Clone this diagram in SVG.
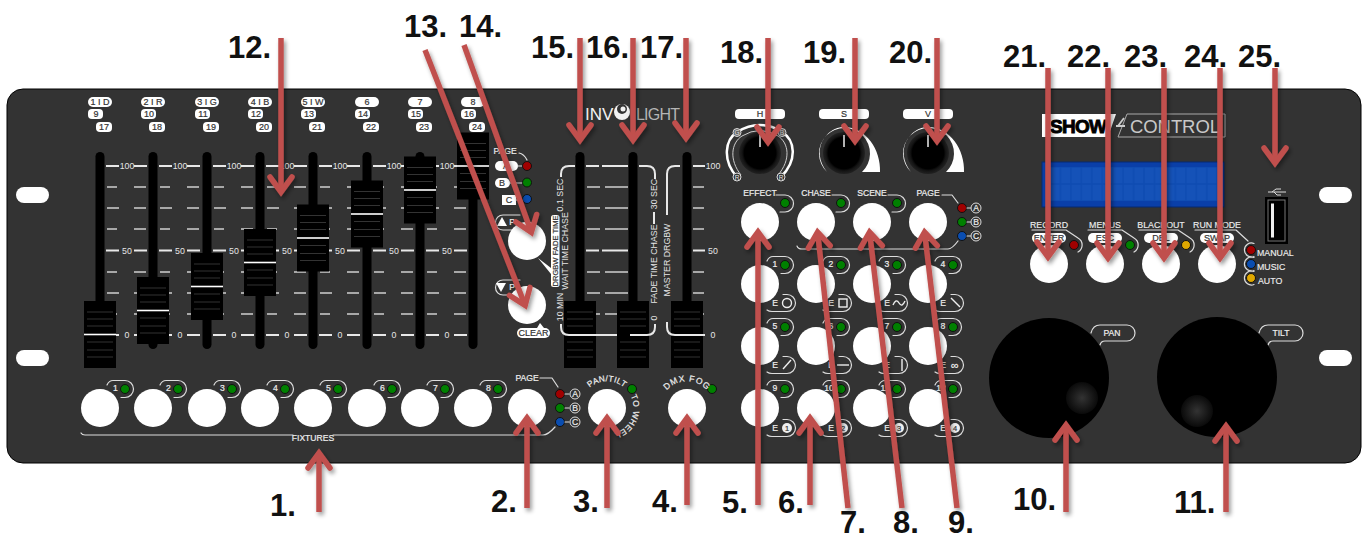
<svg xmlns="http://www.w3.org/2000/svg" width="1367" height="538" viewBox="0 0 1367 538">
<style>
text{font-family:"Liberation Sans",Arial,sans-serif}
.num{font-size:31px;font-weight:700;fill:#111}
.s{font-size:8.8px;fill:#e6e6e6;text-anchor:middle;dominant-baseline:central}
.sb{font-size:8.6px;fill:#eee;stroke:#eee;stroke-width:.2;text-anchor:middle;dominant-baseline:central}
.d{font-size:9px;fill:#333;stroke:#333;stroke-width:.2;text-anchor:middle;dominant-baseline:central}
.l{fill:none;stroke:#ddd;stroke-width:1.2;stroke-linecap:round;stroke-linejoin:round}
.tk{stroke:#e8e8e8;stroke-width:2;fill:none}
.tm{stroke:#cfcfcf;stroke-width:1.5;fill:none}
.btn{fill:#fff}
.g{fill:#008000;stroke:#111;stroke-width:1}
.r{fill:#a00000;stroke:#111;stroke-width:1}
.b{fill:#0a4db0;stroke:#111;stroke-width:1}
.y{fill:#e0a800;stroke:#111;stroke-width:1}
.pill{fill:#fff}
.arrow line{stroke:#c0504d;stroke-width:5.5;marker-end:url(#head)}
.lab{font-size:8.8px;fill:#eee;stroke:#eee;stroke-width:.15}
</style>
<defs>
<marker id="head" markerUnits="userSpaceOnUse" orient="auto" overflow="visible" markerWidth="30" markerHeight="30" refX="0" refY="0">
<path d="M-14,-11 L1,0 L-14,11" fill="none" stroke="#c0504d" stroke-width="5.5" stroke-linecap="round" stroke-linejoin="miter"/>
</marker>
<filter id="sh" x="-20%" y="-20%" width="140%" height="140%"><feDropShadow dx="2" dy="3" stdDeviation="2" flood-color="#000" flood-opacity=".4"/></filter>
<radialGradient id="ring"><stop offset="0.75" stop-color="#000"/><stop offset="0.85" stop-color="#141414"/><stop offset="1" stop-color="#222"/></radialGradient>
<radialGradient id="dimple"><stop offset="0" stop-color="#333"/><stop offset="0.7" stop-color="#161616"/><stop offset="1" stop-color="#0a0a0a"/></radialGradient>
<pattern id="cells" patternUnits="userSpaceOnUse" x="1050" y="167" width="10.45" height="17"><rect width="10.45" height="17" fill="#0e4cb2"/><rect x=".8" y=".8" width="8.9" height="15.400" fill="#1552b8"/></pattern>
<g id="track"><rect x="-4.500" y="152" width="9" height="197" rx="4.500" fill="#000"/></g>
<g id="handle">
<rect x="-16" y="0" width="32" height="67" fill="#000"/>
<path d="M-13,11H13M-13,18H13M-13,25H13M-13,41H13M-13,49H13M-13,56H13" stroke="#333" stroke-width="1.200"/>
<path d="M-16,33.500H16" stroke="#fff" stroke-width="1.600"/>
</g>
<g id="ticks">
<path class="tk" d="M6,166H19M34,166H47M6,250.500H19M34,250.500H47M6,335H19M34,335H47"/>
<path class="tm" d="M7,187H17M34,187H46M7,208H19M34,208H46M7,229H17M34,229H46M7,272H17M34,272H46M7,293H19M34,293H46M7,314H17M34,314H46"/>
<text class="s" x="27" y="166">100</text><text class="s" x="27" y="250.500">50</text><text class="s" x="27" y="335">0</text>
</g>
<g id="ledarc"><path class="l" d="M-18,-4Q-16,-8.500-12,-8.500H0A8.500,8.500 0 0 1 0,8.500H-4"/><circle class="g" r="4.500"/></g>
<g id="earc"><path class="l" d="M-20,7Q-18,8.500-15,8.500H0A8.500,8.500 0 0 0 0,-8.500H-4"/></g>
<path id="p-dmx" d="M661,401A27,27 0 0 1 713,401"/>
<path id="p-pan" d="M581,401A27,27 0 0 1 633,401"/>
<path id="p-wheel" d="M628,392A26,26 0 0 1 610,434"/>
</defs>

<g id="panel">
<rect x="7" y="89" width="1354" height="374" rx="16" fill="#333" stroke="#000" stroke-width="1"/>
<rect class="pill" x="16" y="187" width="33" height="16" rx="8"/>
<rect class="pill" x="16" y="350" width="33" height="16" rx="8"/>
<rect class="pill" x="1319" y="187" width="33" height="16" rx="8"/>
<rect class="pill" x="1319" y="350" width="33" height="16" rx="8"/>
</g>

<g id="channel-labels">
<g transform="translate(100,0)"><rect class="pill" x="-12" y="97" width="24" height="10" rx="5"/><text class="d" y="102">1 I D</text><rect class="pill" x="-12" y="109" width="15" height="10" rx="4"/><text class="d" x="-4" y="114">9</text><rect class="pill" x="-4" y="122" width="16" height="10" rx="4"/><text class="d" x="4" y="127">17</text></g>
<g transform="translate(153,0)"><rect class="pill" x="-12" y="97" width="24" height="10" rx="5"/><text class="d" y="102">2 I R</text><rect class="pill" x="-12" y="109" width="15" height="10" rx="4"/><text class="d" x="-4" y="114">10</text><rect class="pill" x="-4" y="122" width="16" height="10" rx="4"/><text class="d" x="4" y="127">18</text></g>
<g transform="translate(207,0)"><rect class="pill" x="-12" y="97" width="24" height="10" rx="5"/><text class="d" y="102">3 I G</text><rect class="pill" x="-12" y="109" width="15" height="10" rx="4"/><text class="d" x="-4" y="114">11</text><rect class="pill" x="-4" y="122" width="16" height="10" rx="4"/><text class="d" x="4" y="127">19</text></g>
<g transform="translate(260,0)"><rect class="pill" x="-12" y="97" width="24" height="10" rx="5"/><text class="d" y="102">4 I B</text><rect class="pill" x="-12" y="109" width="15" height="10" rx="4"/><text class="d" x="-4" y="114">12</text><rect class="pill" x="-4" y="122" width="16" height="10" rx="4"/><text class="d" x="4" y="127">20</text></g>
<g transform="translate(313,0)"><rect class="pill" x="-12" y="97" width="24" height="10" rx="5"/><text class="d" y="102">5 I W</text><rect class="pill" x="-12" y="109" width="15" height="10" rx="4"/><text class="d" x="-4" y="114">13</text><rect class="pill" x="-4" y="122" width="16" height="10" rx="4"/><text class="d" x="4" y="127">21</text></g>
<g transform="translate(367,0)"><rect class="pill" x="-12" y="97" width="24" height="10" rx="5"/><text class="d" y="102">6</text><rect class="pill" x="-12" y="109" width="15" height="10" rx="4"/><text class="d" x="-4" y="114">14</text><rect class="pill" x="-4" y="122" width="16" height="10" rx="4"/><text class="d" x="4" y="127">22</text></g>
<g transform="translate(420,0)"><rect class="pill" x="-12" y="97" width="24" height="10" rx="5"/><text class="d" y="102">7</text><rect class="pill" x="-12" y="109" width="15" height="10" rx="4"/><text class="d" x="-4" y="114">15</text><rect class="pill" x="-4" y="122" width="16" height="10" rx="4"/><text class="d" x="4" y="127">23</text></g>
<g transform="translate(473,0)"><rect class="pill" x="-12" y="97" width="24" height="10" rx="5"/><text class="d" y="102">8</text><rect class="pill" x="-12" y="109" width="15" height="10" rx="4"/><text class="d" x="-4" y="114">16</text><rect class="pill" x="-4" y="122" width="16" height="10" rx="4"/><text class="d" x="4" y="127">24</text></g>
</g>

<g id="fader-ticks">
<use href="#ticks" x="100"/><use href="#ticks" x="153"/><use href="#ticks" x="207"/><use href="#ticks" x="260"/><use href="#ticks" x="313"/><use href="#ticks" x="367"/><use href="#ticks" x="420"/>
</g>
<g id="fader-1" transform="translate(100,0)"><use href="#track"/><use href="#handle" y="301"/></g>
<g id="fader-2" transform="translate(153,0)"><use href="#track"/><use href="#handle" y="277"/></g>
<g id="fader-3" transform="translate(207,0)"><use href="#track"/><use href="#handle" y="253"/></g>
<g id="fader-4" transform="translate(260,0)"><use href="#track"/><use href="#handle" y="229"/></g>
<g id="fader-5" transform="translate(313,0)"><use href="#track"/><use href="#handle" y="204.500"/></g>
<g id="fader-6" transform="translate(367,0)"><use href="#track"/><use href="#handle" y="180.500"/></g>
<g id="fader-7" transform="translate(420,0)"><use href="#track"/><use href="#handle" y="156.500"/></g>
<g id="fader-8" transform="translate(473,0)"><use href="#track"/><use href="#handle" y="132.500"/></g>

<g id="page-select-top">
<text class="sb" x="505" y="151">PAGE</text><path class="l" d="M519,153Q524,154 527,160"/>
<rect class="pill" x="495" y="161" width="23" height="10" rx="5"/><text class="d" x="506" y="166">A</text><path class="l" d="M518,166H523"/><circle class="r" cx="527" cy="166" r="4.500"/>
<rect class="pill" x="495" y="178" width="15" height="10" rx="5"/><text class="d" x="502" y="183">B</text><path class="l" d="M510,183H523"/><circle class="g" cx="527" cy="182.500" r="4.500"/>
<rect class="pill" x="502" y="195" width="14" height="10"/><text class="d" x="509" y="200">C</text><path class="l" d="M516,200H523"/><circle class="b" cx="527" cy="199" r="4.500"/>
</g>
<g id="btn-page-up">
<path class="l" d="M519,230H503A7.500,7.500 0 0 1 503,215H520"/><polygon points="502,217 507,226 497,226" fill="#fff"/><text class="sb" x="512" y="222">P</text>
<path d="M538,258L551,268V274Z" fill="#fff"/><circle class="btn" cx="527" cy="241" r="19"/>
</g>
<g id="btn-page-down">
<path class="l" d="M519,295H503A7.500,7.500 0 0 1 503,280H520"/><polygon points="496,283 506,283 501,292" fill="#fff"/><text class="sb" x="512" y="287">P</text>
<path d="M537,328L540,323L544,328Z" fill="#fff"/><circle class="btn" cx="527" cy="305" r="19"/>
<rect class="pill" x="517" y="328" width="33" height="10" rx="5"/><text class="d" x="533.500" y="333">CLEAR</text>
</g>

<g id="fader-ticks-2">
<path class="tk" d="M586,166H599M602,166H628M586,250.500H599M602,250.500H628M586,335H599M602,335H628M693,166H705M693,250.500H705M693,335H705"/>
<path class="tm" d="M587,187H600M605,187H628M587,208H600M605,208H628M587,229H600M605,229H628M587,272H600M605,272H628M587,293H600M605,293H628M587,314H600M605,314H628M693,187H704M693,208H704M693,229H704M693,272H704M693,293H704M693,314H704"/>
<text class="s" x="713" y="166">100</text><text class="s" x="713" y="250.500">50</text><text class="s" x="713" y="335">0</text>
</g>
<g id="fader-15" transform="translate(580,0)"><use href="#track"/><rect x="-16" y="301" width="32" height="67"/><path d="M-13,312H13M-13,319H13M-13,326H13M-13,342H13M-13,350H13M-13,357H13" stroke="#333" stroke-width="1.200"/></g>
<g id="fader-16" transform="translate(633,0)"><use href="#track"/><rect x="-16" y="301" width="32" height="67"/><path d="M-13,312H13M-13,319H13M-13,326H13M-13,342H13M-13,350H13M-13,357H13" stroke="#333" stroke-width="1.200"/></g>
<g id="fader-17" transform="translate(687,0)"><use href="#track"/><rect x="-16" y="301" width="32" height="67"/><path d="M-13,312H13M-13,319H13M-13,326H13M-13,342H13M-13,350H13M-13,357H13" stroke="#333" stroke-width="1.200"/></g>
<g id="fader-brackets">
<path class="tk" d="M561,177V174Q561,166 569,166H575M639,166H647Q655,166 655,174V179M667,215V174Q667,166 675,166H680M561,324V327Q561,335 569,335H608M630,335H647Q655,335 655,327V324M667,322V327Q667,335 675,335H705"/>
<path class="tk" d="M654,212V224"/>
<rect class="pill" x="551" y="215" width="8.500" height="72" rx="2.500"/>
<text class="d" style="font-size:7.600px" transform="translate(555.300,251) rotate(-90)">DRGBW FADE TIME</text>
<text class="s" transform="translate(565,251) rotate(-90)">WAIT TIME CHASE</text>
<text class="s" transform="translate(560,195) rotate(-90)">0.1 SEC</text>
<text class="s" transform="translate(560,307) rotate(-90)">10 MIN</text>
<text class="s" transform="translate(654,194) rotate(-90)">30 SEC</text>
<text class="s" transform="translate(654,264) rotate(-90)">FADE TIME CHASE</text>
<text class="s" transform="translate(654,318) rotate(-90)">0</text>
<text class="s" transform="translate(667,260) rotate(-90)">MASTER DRGBW</text>
</g>

<g id="logo-involight">
<text x="585" y="120" font-size="17" fill="#f2f2f2">INV</text>
<circle cx="622" cy="112" r="8" fill="#f2f2f2"/><circle cx="622" cy="109" r="5" fill="#333"/><circle cx="623" cy="109" r="2.500" fill="#f2f2f2"/>
<text x="636" y="120" font-size="16" fill="#b5b5b5" textLength="44">LIGHT</text>
</g>

<g id="knob-h">
<rect class="pill" x="735" y="109" width="50" height="10" rx="4"/><text class="d" x="760" y="114">H</text>
<path d="M737,177C722,160 725,140 737,132Q760,118 782,132C795,140 798,160 781,177" fill="none" stroke="#fff" stroke-width="2.500"/>
<path d="M741,175C729,160 731,143 742,136Q760,125 778,136C789,143 791,160 778,175" fill="none" stroke="#ccc" stroke-width="1"/>
<circle cx="760" cy="153" r="21" fill="url(#ring)"/><path d="M760,135V147" stroke="#eee" stroke-width="1.500"/>
<circle cx="737" cy="132.500" r="4" fill="#666" stroke="#ddd"/><text class="s" x="737" y="132.500" style="font-size:6.500px">G</text>
<circle cx="782" cy="132.500" r="4" fill="#666" stroke="#ddd"/><text class="s" x="782" y="132.500" style="font-size:6.500px">B</text>
<circle cx="737" cy="177" r="4" fill="#333" stroke="#ddd"/><text class="s" x="737" y="177" style="font-size:6.500px">R</text>
<circle cx="781" cy="177" r="4" fill="#333" stroke="#ddd"/><text class="s" x="781" y="177" style="font-size:6.500px">R</text>
</g>
<g id="knob-s">
<rect class="pill" x="819" y="109" width="50" height="10" rx="4"/><text class="d" x="844" y="114">S</text>
<path d="M827,172A25.500,25.500 0 1 1 862,172H880C881,150 866,127 844,127C826,127 810,150 827,172Z" fill="#fff"/>
<circle cx="844" cy="153" r="21" fill="url(#ring)"/><path d="M844,135V147" stroke="#eee" stroke-width="1.500"/>
</g>
<g id="knob-v">
<rect class="pill" x="903" y="109" width="50" height="10" rx="4"/><text class="d" x="928" y="114">V</text>
<path d="M911,172A25.500,25.500 0 1 1 946,172H964C965,150 950,127 928,127C910,127 894,150 911,172Z" fill="#fff"/>
<circle cx="928" cy="153" r="21" fill="url(#ring)"/><path d="M928,135V147" stroke="#eee" stroke-width="1.500"/>
</g>

<g id="btn-effect"><text class="sb" x="760" y="193">EFFECT</text><path class="l" d="M776,195H785A8.500,8.500 0 0 1 785,212H780"/><circle class="btn" cx="760" cy="222" r="19"/><circle class="g" cx="785" cy="203" r="4.500"/></g>
<g id="btn-chase"><text class="sb" x="816" y="193">CHASE</text><path class="l" d="M832,195H841A8.500,8.500 0 0 1 841,212H836"/><circle class="btn" cx="816" cy="222" r="19"/><circle class="g" cx="841" cy="203" r="4.500"/></g>
<g id="btn-scene"><text class="sb" x="872" y="193">SCENE</text><path class="l" d="M888,195H897A8.500,8.500 0 0 1 897,212H892"/><circle class="btn" cx="872" cy="222" r="19"/><circle class="g" cx="897" cy="203" r="4.500"/></g>
<g id="btn-page"><text class="sb" x="928" y="193">PAGE</text><path class="l" d="M942,195H952L958,203M797,246Q798,249 802,249H948Q952,249 958,241"/><circle class="btn" cx="928" cy="222" r="19"/>
<circle class="r" cx="962" cy="208" r="4.500"/><circle class="g" cx="962" cy="222" r="4.500"/><circle class="b" cx="962" cy="236" r="4.500"/>
<path class="l" d="M967,208H971M967,222H971M967,236H971"/>
<circle cx="976" cy="208" r="5" fill="#333" stroke="#ddd"/><text class="sb" x="976" y="208">A</text>
<circle cx="976" cy="222" r="5" fill="#333" stroke="#ddd"/><text class="sb" x="976" y="222">B</text>
<circle cx="976" cy="236" r="5" fill="#333" stroke="#ddd"/><text class="sb" x="976" y="236">C</text>
</g>

<g id="grid-1"><circle class="btn" cx="760" cy="284" r="19"/><use href="#ledarc" x="785" y="265"/><text class="sb" x="775" y="264">1</text><use href="#earc" x="787" y="303"/><text class="sb" x="775" y="303">E</text><circle cx="787" cy="303" r="4.500" fill="none" stroke="#eee" stroke-width="1.400"/></g>
<g id="grid-2"><circle class="btn" cx="816" cy="284" r="19"/><use href="#ledarc" x="841" y="265"/><text class="sb" x="831" y="264">2</text><use href="#earc" x="843" y="303"/><text class="sb" x="831" y="303">E</text><rect x="839" y="299" width="8" height="8" fill="none" stroke="#eee" stroke-width="1.400"/></g>
<g id="grid-3"><circle class="btn" cx="872" cy="284" r="19"/><use href="#ledarc" x="897" y="265"/><text class="sb" x="887" y="264">3</text><use href="#earc" x="899" y="303"/><text class="sb" x="887" y="303">E</text><path d="M893,305Q896,298 899,303T905,301" fill="none" stroke="#eee" stroke-width="1.400"/></g>
<g id="grid-4"><circle class="btn" cx="928" cy="284" r="19"/><use href="#ledarc" x="953" y="265"/><text class="sb" x="943" y="264">4</text><use href="#earc" x="955" y="303"/><text class="sb" x="943" y="303">E</text><path d="M951,298L960,307" fill="none" stroke="#eee" stroke-width="1.400"/></g>
<g id="grid-5"><circle class="btn" cx="760" cy="346" r="19"/><use href="#ledarc" x="785" y="327"/><text class="sb" x="775" y="326">5</text><use href="#earc" x="787" y="365"/><text class="sb" x="775" y="365">E</text><path d="M783,369L791,360" fill="none" stroke="#eee" stroke-width="1.400"/></g>
<g id="grid-6"><circle class="btn" cx="816" cy="346" r="19"/><use href="#ledarc" x="841" y="327"/><text class="sb" x="831" y="326">6</text><use href="#earc" x="843" y="365"/><text class="sb" x="831" y="365">E</text><path d="M837,365H849" fill="none" stroke="#eee" stroke-width="1.400"/></g>
<g id="grid-7"><circle class="btn" cx="872" cy="346" r="19"/><use href="#ledarc" x="897" y="327"/><text class="sb" x="887" y="326">7</text><use href="#earc" x="899" y="365"/><text class="sb" x="887" y="365">E</text><path d="M902,359V371" fill="none" stroke="#eee" stroke-width="1.400"/></g>
<g id="grid-8"><circle class="btn" cx="928" cy="346" r="19"/><use href="#ledarc" x="953" y="327"/><text class="sb" x="943" y="326">8</text><use href="#earc" x="955" y="365"/><text class="sb" x="943" y="365">E</text><text class="sb" x="955" y="365" style="font-size:11px">∞</text></g>
<g id="grid-9"><circle class="btn" cx="760" cy="408" r="19"/><use href="#ledarc" x="785" y="389"/><text class="sb" x="775" y="388">9</text><use href="#earc" x="787" y="428"/><text class="sb" x="775" y="428">E</text><circle cx="787" cy="428" r="5" fill="#eee"/><text class="d" x="787" y="428" style="font-size:7.500px">1</text></g>
<g id="grid-10"><circle class="btn" cx="816" cy="408" r="19"/><use href="#ledarc" x="841" y="389"/><text class="sb" x="829" y="388">10</text><use href="#earc" x="843" y="428"/><text class="sb" x="831" y="428">E</text><circle cx="843" cy="428" r="5" fill="#eee"/><text class="d" x="843" y="428" style="font-size:7.500px">2</text></g>
<g id="grid-11"><circle class="btn" cx="872" cy="408" r="19"/><use href="#ledarc" x="897" y="389"/><text class="sb" x="885" y="388">11</text><use href="#earc" x="899" y="428"/><text class="sb" x="887" y="428">E</text><circle cx="899" cy="428" r="5" fill="#eee"/><text class="d" x="899" y="428" style="font-size:7.500px">3</text></g>
<g id="grid-12"><circle class="btn" cx="928" cy="408" r="19"/><use href="#ledarc" x="953" y="389"/><text class="sb" x="941" y="388">12</text><use href="#earc" x="955" y="428"/><text class="sb" x="943" y="428">E</text><circle cx="955" cy="428" r="5" fill="#eee"/><text class="d" x="955" y="428" style="font-size:7.500px">4</text></g>

<g id="fix-1"><circle class="btn" cx="100" cy="408" r="19"/><use href="#ledarc" x="125" y="389"/><text class="sb" x="115.500" y="388">1</text></g>
<g id="fix-2"><circle class="btn" cx="153" cy="408" r="19"/><use href="#ledarc" x="178" y="389"/><text class="sb" x="168.500" y="388">2</text></g>
<g id="fix-3"><circle class="btn" cx="207" cy="408" r="19"/><use href="#ledarc" x="232" y="389"/><text class="sb" x="222.500" y="388">3</text></g>
<g id="fix-4"><circle class="btn" cx="260" cy="408" r="19"/><use href="#ledarc" x="285" y="389"/><text class="sb" x="275.500" y="388">4</text></g>
<g id="fix-5"><circle class="btn" cx="313" cy="408" r="19"/><use href="#ledarc" x="338" y="389"/><text class="sb" x="328.500" y="388">5</text></g>
<g id="fix-6"><circle class="btn" cx="367" cy="408" r="19"/><use href="#ledarc" x="392" y="389"/><text class="sb" x="382.500" y="388">6</text></g>
<g id="fix-7"><circle class="btn" cx="420" cy="408" r="19"/><use href="#ledarc" x="445" y="389"/><text class="sb" x="435.500" y="388">7</text></g>
<g id="fix-8"><circle class="btn" cx="473" cy="408" r="19"/><use href="#ledarc" x="498" y="389"/><text class="sb" x="488.500" y="388">8</text></g>
<g id="fixtures-bracket">
<path class="l" d="M81,433Q82,435 85,435H293M333,435H543Q548,435 555,427"/>
<text class="sb" x="313" y="438">FIXTURES</text>
</g>
<g id="btn-page-2"><text class="sb" x="527" y="378">PAGE</text><path class="l" d="M540,378H552L558,387"/><circle class="btn" cx="527" cy="408" r="19"/>
<circle class="r" cx="560" cy="394" r="4.500"/><circle class="g" cx="560" cy="408" r="4.500"/><circle class="b" cx="560" cy="422" r="4.500"/>
<path class="l" d="M565,394H569M565,408H569M565,422H569"/>
<circle cx="575" cy="394" r="5" fill="#333" stroke="#ddd"/><text class="sb" x="575" y="394">A</text>
<circle cx="575" cy="408" r="5" fill="#333" stroke="#ddd"/><text class="sb" x="575" y="408">B</text>
<circle cx="575" cy="422" r="5" fill="#333" stroke="#ddd"/><text class="sb" x="575" y="422">C</text>
</g>
<g id="btn-pan-tilt"><circle class="btn" cx="607" cy="408" r="19"/><circle class="g" cx="632" cy="389" r="4.500"/>
<text font-size="8.300" fill="#eee" stroke="#eee" stroke-width=".2" text-anchor="middle" letter-spacing=".3"><textPath href="#p-pan" startOffset="50%">PAN/TILT</textPath></text>
<text font-size="8.300" fill="#eee" stroke="#eee" stroke-width=".2" text-anchor="middle" letter-spacing=".4"><textPath href="#p-wheel" startOffset="50%">TO WHEEL</textPath></text>
</g>
<g id="btn-dmx-fog"><circle class="btn" cx="687" cy="408" r="19"/><circle class="g" cx="712" cy="389" r="4.500"/>
<text font-size="8.600" fill="#eee" stroke="#eee" stroke-width=".2" text-anchor="middle" letter-spacing=".8"><textPath href="#p-dmx" startOffset="50%">DMX FOG</textPath></text>
</g>

<g id="logo-showcontrol">
<polygon points="1042,114 1116,114 1108,137 1042,137" fill="#fff"/>
<text x="1050" y="133" font-size="19" font-weight="700" fill="#000" stroke="#000" stroke-width=".9" textLength="57">SHOW</text>
<polygon points="1127,114 1225,114 1225,137 1118,137" fill="none" stroke="#aaa" stroke-width="1"/>
<path d="M1116,126H1125M1124,118L1118,126" stroke="#ccc" stroke-width="1.800" fill="none"/>
<text x="1130" y="133" font-size="18.500" fill="#c8c8c8" textLength="90">CONTROL</text>
</g>
<g id="lcd"><rect x="1042" y="162" width="182" height="45" fill="#0a3fa8" stroke="#062a70" stroke-width="1"/><rect x="1050" y="167" width="167" height="34" fill="url(#cells)"/></g>

<g id="btn-record"><text class="lab" x="1049" y="225" text-anchor="middle" dominant-baseline="central">RECORD</text><path class="l" d="M1032,230H1066L1078,238A8,8 0 0 1 1078,252"/><rect class="pill" x="1032" y="233" width="34" height="10" rx="5"/><text class="d" x="1049" y="238">ENTER</text><circle class="btn" cx="1049" cy="264" r="19"/><circle class="r" cx="1074" cy="245" r="4.500"/></g>
<g id="btn-menus"><text class="lab" x="1105" y="225" text-anchor="middle" dominant-baseline="central">MENUS</text><path class="l" d="M1088,230H1122L1134,238A8,8 0 0 1 1134,252"/><rect class="pill" x="1088" y="233" width="34" height="10" rx="5"/><text class="d" x="1105" y="238">ESC</text><circle class="btn" cx="1105" cy="264" r="19"/><circle class="g" cx="1130" cy="245" r="4.500"/></g>
<g id="btn-blackout"><text class="lab" x="1161" y="225" text-anchor="middle" dominant-baseline="central">BLACKOUT</text><path class="l" d="M1139,230H1178L1190,238A8,8 0 0 1 1190,252"/><rect class="pill" x="1144" y="233" width="34" height="10" rx="5"/><text class="d" x="1161" y="238">DEL</text><circle class="btn" cx="1161" cy="264" r="19"/><circle class="y" cx="1186" cy="245" r="4.500"/></g>
<g id="btn-runmode"><text class="lab" x="1217" y="225" text-anchor="middle" dominant-baseline="central">RUN MODE</text><path class="l" d="M1195,230H1236L1248,241"/><rect class="pill" x="1200" y="233" width="34" height="10" rx="5"/><text class="d" x="1217" y="238">SWAP</text><circle class="btn" cx="1217" cy="264" r="19"/>
<path class="l" d="M1254,243.500A7,7 0 1 0 1254,256.500M1254,257.500A7,7 0 1 0 1254,270.500M1254,271.500A7,7 0 1 0 1254,284.500"/>
<circle class="r" cx="1251" cy="250" r="4.500"/><circle class="b" cx="1251" cy="264" r="4.500"/><circle class="y" cx="1251" cy="278" r="4.500"/>
<text class="lab" x="1257" y="256">MANUAL</text><text class="lab" x="1257" y="270">MUSIC</text><text class="lab" x="1258" y="284">AUTO</text>
</g>
<g id="usb">
<path d="M1268,192H1286M1272,192L1276,189H1281M1274,192L1277,195H1281" fill="none" stroke="#ddd" stroke-width="1"/>
<rect x="1265" y="197" width="23" height="47" fill="#000"/>
<rect x="1268" y="200" width="17" height="41" fill="none" stroke="#777" stroke-width="1"/>
<rect x="1271" y="203.500" width="3" height="34" fill="#eee"/>
</g>

<g id="wheel-pan">
<path class="l" d="M1091,333Q1093,325 1100,325H1127A8,8 0 0 1 1127,341H1105Q1101,341 1100,345"/>
<text class="sb" x="1112" y="333">PAN</text>
<circle cx="1049" cy="378" r="60" fill="#000"/><circle cx="1082" cy="398" r="16" fill="url(#dimple)"/>
</g>
<g id="wheel-tilt">
<path class="l" d="M1259,333Q1261,325 1268,325H1295A8,8 0 0 1 1295,341H1273Q1269,341 1268,345"/>
<text class="sb" x="1281" y="333">TILT</text>
<circle cx="1217" cy="377" r="60" fill="#000"/><circle cx="1197" cy="411" r="16" fill="url(#dimple)"/>
</g>

<g id="connectors" class="arrow" filter="url(#sh)">
<line x1="319" y1="512" x2="319" y2="454"/>
<line x1="527" y1="508" x2="527" y2="419"/>
<line x1="607" y1="508" x2="607" y2="419"/>
<line x1="687" y1="505" x2="687" y2="419"/>
<line x1="758" y1="505" x2="758" y2="233"/>
<line x1="810" y1="505" x2="810" y2="419"/>
<line x1="848" y1="508" x2="817.700" y2="233"/>
<line x1="902" y1="508" x2="869.700" y2="233"/>
<line x1="957" y1="508" x2="924.700" y2="233"/>
<line x1="1066" y1="512" x2="1066" y2="426"/>
<line x1="1226" y1="512" x2="1226" y2="427"/>
<line x1="281" y1="38" x2="281" y2="191"/>
<line x1="425" y1="50" x2="524.800" y2="304.400"/>
<line x1="464" y1="45" x2="531" y2="231.400"/>
<line x1="580" y1="38" x2="580" y2="139"/>
<line x1="633" y1="38" x2="633" y2="139"/>
<line x1="686" y1="38" x2="686" y2="137"/>
<line x1="768" y1="38" x2="768" y2="141"/>
<line x1="855" y1="38" x2="855" y2="140"/>
<line x1="937" y1="38" x2="937" y2="140"/>
<line x1="1048" y1="68" x2="1048" y2="256"/>
<line x1="1108" y1="68" x2="1108" y2="257"/>
<line x1="1164" y1="68" x2="1164" y2="257"/>
<line x1="1220" y1="68" x2="1220" y2="257"/>
<line x1="1275" y1="68" x2="1275" y2="162"/>
</g>

<g id="numbers">
<text class="num" x="270" y="516">1.</text><text class="num" x="491" y="512">2.</text><text class="num" x="573" y="512">3.</text><text class="num" x="652" y="512">4.</text><text class="num" x="722" y="513">5.</text><text class="num" x="778" y="513">6.</text><text class="num" x="840" y="533">7.</text><text class="num" x="893" y="533">8.</text><text class="num" x="948" y="533">9.</text><text class="num" x="1013" y="510">10.</text><text class="num" x="1174" y="513">11.</text><text class="num" x="228" y="58">12.</text><text class="num" x="404" y="37">13.</text><text class="num" x="459" y="37">14.</text><text class="num" x="531" y="58">15.</text><text class="num" x="586" y="58">16.</text><text class="num" x="640" y="58">17.</text><text class="num" x="720" y="63">18.</text><text class="num" x="803" y="63">19.</text><text class="num" x="889" y="63">20.</text><text class="num" x="1003" y="67">21.</text><text class="num" x="1067" y="67">22.</text><text class="num" x="1124" y="67">23.</text><text class="num" x="1184" y="67">24.</text><text class="num" x="1238" y="67">25.</text>
</g>
</svg>
